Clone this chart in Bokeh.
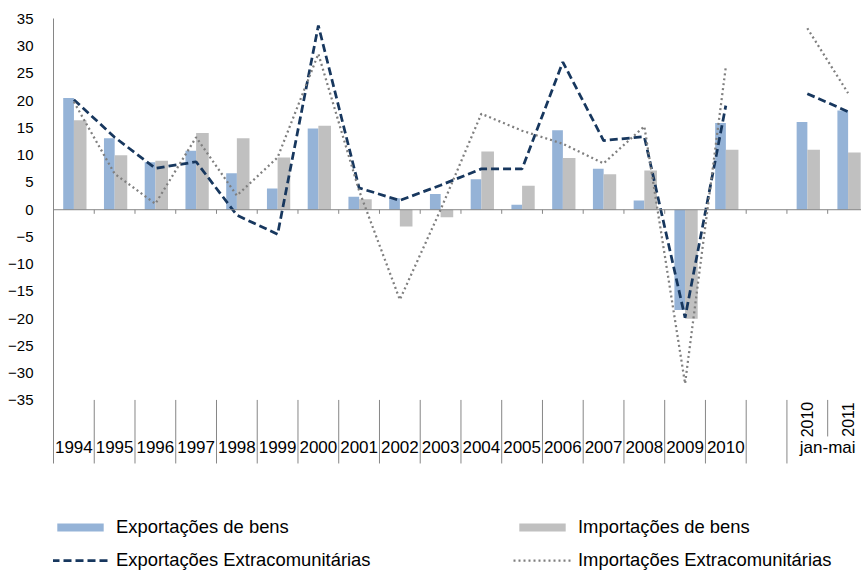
import math
from bokeh.plotting import figure
from bokeh.models import (ColumnDataSource, Legend, LegendItem, FixedTicker,
                          Span, Range1d)
from bokeh.core.properties import value
from bokeh.embed import file_html
from bokeh.resources import INLINE

nan = float("nan")

# ---- data -------------------------------------------------------------
categories = ["1994", "1995", "1996", "1997", "1998", "1999", "2000", "2001",
              "2002", "2003", "2004", "2005", "2006", "2007", "2008", "2009",
              "2010", "", "2010", "2011"]
group_label = "jan-mai"
group_members = [18, 19]          # indices of the jan-mai sub categories

exp_bens = [20.5, 13.1, 8.7, 10.8, 6.7, 3.9, 14.9, 2.4, 2.1, 2.9, 5.6, 0.9,
            14.6, 7.5, 1.7, -18.4, 15.9, nan, 16.1, 18.2]
imp_bens = [16.4, 10.0, 9.0, 14.1, 13.1, 9.6, 15.4, 1.9, -3.1, -1.4, 10.7, 4.4,
            9.5, 6.5, 7.2, -20.0, 11.0, nan, 11.0, 10.5]
exp_extra = [20.2, 13.3, 7.6, 8.8, -1.0, -4.5, 33.8, 4.0, 1.7, 4.5, 7.5, 7.5,
             27.1, 12.7, 13.4, -19.8, 19.1, nan, 21.3, 18.0]
imp_extra = [19.8, 6.6, 1.1, 13.3, 2.6, 9.6, 28.6, 3.5, -16.5, 0.0, 17.6, 14.5,
             12.1, 8.5, 15.3, -31.9, 26.2, nan, 33.3, 21.4]

y_ticks = [-35, -30, -25, -20, -15, -10, -5, 0, 5, 10, 15, 20, 25, 30, 35]

series_names = ["Exportações de bens", "Importações de bens",
                "Exportações Extracomunitárias", "Importações Extracomunitárias"]

# ---- figure -----------------------------------------------------------
FONT = "Liberation Sans"
AX = "#868686"
n = len(categories)
xs = list(range(n))

p = figure(width=861, height=571, output_backend="svg", toolbar_location=None,
           x_range=Range1d(-0.5, 19.33), y_range=Range1d(-66.38, 38.39),
           x_axis_location=None, y_axis_location="left",
           min_border_left=53, min_border_right=0, min_border_top=0,
           min_border_bottom=0)
p.outline_line_color = None
p.xgrid.visible = False
p.ygrid.visible = False
p.background_fill_color = "white"

yax = p.yaxis[0]
yax.ticker = FixedTicker(ticks=y_ticks)
yax.bounds = (-46.56, 35)
yax.axis_line_color = AX
yax.axis_line_width = 1
yax.major_tick_line_color = None
yax.minor_tick_line_color = None
yax.major_tick_out = 0
yax.major_tick_in = 0
yax.major_label_standoff = 20
yax.major_label_text_font = FONT
yax.major_label_text_font_size = "15px"
yax.major_label_text_color = "#000000"

# zero axis line
p.add_layout(Span(location=0, dimension="width", line_color=AX, line_width=1))

# small tick marks on zero line at category boundaries
bx = [k - 0.5 for k in range(1, n + 1)]
p.segment(x0=bx, y0=[0] * len(bx), x1=bx, y1=[-0.75] * len(bx),
          line_color=AX, line_width=1)

# category separators below plot
long_b = [k - 0.5 for k in range(1, n - 1)]
p.segment(x0=long_b, y0=[-34.9] * len(long_b), x1=long_b,
          y1=[-46.56] * len(long_b), line_color=AX, line_width=1)
short_b = [n - 1 - 0.5]
p.segment(x0=short_b, y0=[-34.9], x1=short_b, y1=[-41.6],
          line_color=AX, line_width=1)

# ---- bars ---------------------------------------------------------------
src = ColumnDataSource(dict(
    xb=[i - 0.13 for i in xs], xg=[i + 0.155 for i in xs],
    x=xs, eb=exp_bens, ib=imp_bens, ee=exp_extra, ie=imp_extra))

r_eb = p.vbar(x="xb", top="eb", bottom=0, width=0.263, source=src,
              fill_color="#95B3D7", line_color=None)
r_ib = p.vbar(x="xg", top="ib", bottom=0, width=0.31, source=src,
              fill_color="#C0C0C0", line_color=None)

# ---- lines --------------------------------------------------------------
r_ee = p.line(x="x", y="ee", source=src, line_color="#17375E",
              line_width=2.75, line_dash="8 4")
r_ie = p.line(x="x", y="ie", source=src, line_color="#7F7F7F",
              line_width=2.25, line_dash="2 3")

# ---- category labels ----------------------------------------------------
main_idx = [i for i in xs if i not in group_members and categories[i]]
p.text(x=main_idx, y=[-43.62] * len(main_idx),
       text=[categories[i] for i in main_idx],
       text_align="center", text_baseline="middle",
       text_font=value(FONT), text_font_size=value("17px"),
       text_color="#000000")
p.text(x=group_members, y=[-38.5] * len(group_members),
       text=[categories[i] for i in group_members], angle=math.pi / 2,
       text_align="center", text_baseline="middle",
       text_font=value(FONT), text_font_size=value("16px"),
       text_color="#000000")
p.text(x=[sum(group_members) / len(group_members)], y=[-43.62],
       text=[group_label], text_align="center", text_baseline="middle",
       text_font=value(FONT), text_font_size=value("17px"),
       text_color="#000000")

# ---- legends ------------------------------------------------------------
def make_legend(items, loc):
    lg = Legend(items=items, location=loc, orientation="vertical")
    lg.label_text_font = FONT
    lg.label_text_font_size = "18.4px"
    lg.label_text_color = "#000000"
    lg.glyph_width = 58
    lg.glyph_height = 10
    lg.label_height = 21
    lg.label_standoff = 7
    lg.spacing = 11
    lg.padding = 0
    lg.margin = 0
    lg.border_line_color = None
    lg.background_fill_alpha = 0
    return lg

leg1 = make_legend([LegendItem(label=series_names[0], renderers=[r_eb]),
                    LegendItem(label=series_names[2], renderers=[r_ee])],
                   (-2, 0))
leg2 = make_legend([LegendItem(label=series_names[1], renderers=[r_ib]),
                    LegendItem(label=series_names[3], renderers=[r_ie])],
                   (460, 0))
p.add_layout(leg1, "center")
p.add_layout(leg2, "center")

open("out.html", "w").write(file_html(p, INLINE))
